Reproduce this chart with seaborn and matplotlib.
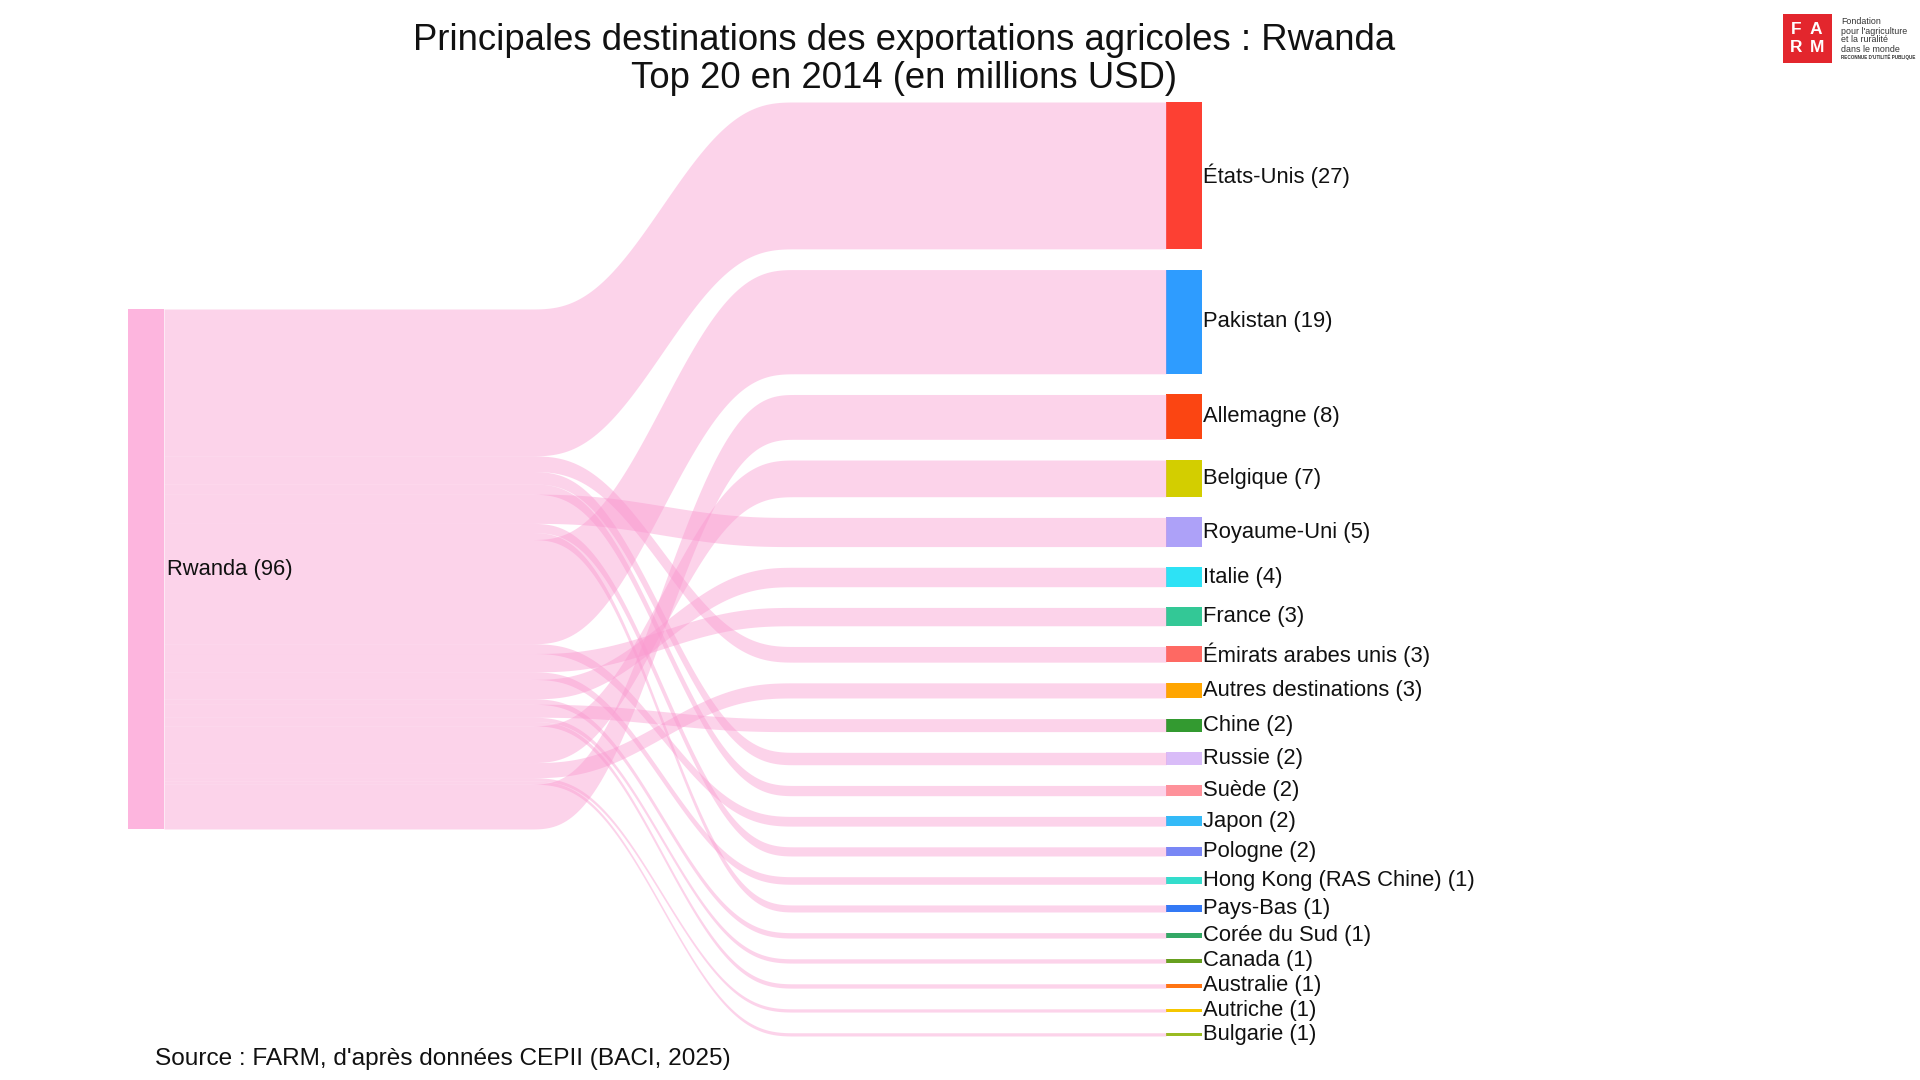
import numpy as np
import matplotlib
matplotlib.use("Agg")
import matplotlib.pyplot as plt
from matplotlib.patches import Rectangle
import seaborn as sns

# Rwanda agricultural exports 2014, million USD
source = "Rwanda"
destinations = ["États-Unis", "Pakistan", "Allemagne", "Belgique", "Royaume-Uni", "Italie",
                "France", "Émirats arabes unis", "Autres destinations", "Chine", "Russie",
                "Suède", "Japon", "Pologne", "Hong Kong (RAS Chine)", "Pays-Bas",
                "Corée du Sud", "Canada", "Australie", "Autriche", "Bulgarie"]
values = [27.2, 19.3, 8.3, 6.8, 5.4, 3.6, 3.4, 2.9, 2.8, 2.4, 2.3, 1.9, 1.8, 1.7, 1.4, 1.3,
          1.0, 0.8, 0.8, 0.6, 0.6]
# order in which the flows leave the Rwanda node, top to bottom
link_order = ["États-Unis", "Émirats arabes unis", "Russie", "Suède", "Royaume-Uni", "Pologne",
              "Pays-Bas", "Pakistan", "Japon", "France", "Hong Kong (RAS Chine)", "Italie",
              "Corée du Sud", "Chine", "Canada", "Australie", "Belgique",
              "Autres destinations", "Autriche", "Bulgarie", "Allemagne"]
node_colors = ["#FD4033", "#2E9CFF", "#FB4512", "#D3CE00", "#ADA1F8", "#2DE2F5", "#33C896",
               "#FE6963", "#FFA500", "#339A30", "#D9BCF8", "#FE919A", "#33BAF8", "#7987F5",
               "#33DDCC", "#3379F5", "#33A865", "#67A01F", "#FF7412", "#F5C700", "#9ABB22"]
source_color = "#FDB5DE"
link_color = "#FA99D0"

sns.set_theme(style="white")
plt.rcParams["font.family"] = ["Liberation Sans", "DejaVu Sans"]

fig = plt.figure(figsize=(19.2, 10.8), dpi=100)
ax = fig.add_axes([0, 0, 1, 1])
ax.set_xlim(0, 1920)
ax.set_ylim(1080, 0)
ax.axis("off")

# layout (pixels)
top, bottom = 102, 1036
x_src, x_tgt, node_w = 128, 1166, 36
pad = 20.7
total = sum(values)
ky = (bottom - top - pad * (len(values) - 1)) / total

tgt_pos = {}
y = top
for name, v, c in zip(destinations, values, node_colors):
    h = v * ky
    tgt_pos[name] = y
    ax.add_patch(Rectangle((x_tgt, y), node_w, h, facecolor=c, edgecolor="none"))
    ax.text(x_tgt + node_w + 1, y + h / 2, f"{name} ({round(v)})", ha="left", va="center",
            fontsize=15.8, color="#111111")
    y += h + pad

src_top = (top + bottom) / 2 - total * ky / 2
ax.add_patch(Rectangle((x_src, src_top), node_w, total * ky, facecolor=source_color,
                       edgecolor="none"))
ax.text(x_src + node_w + 3, src_top + total * ky / 2, f"{source} ({round(total)})",
        ha="left", va="center", fontsize=15.8, color="#111111")

# links: ribbons flat near the nodes, bending in the middle
x0, x1 = x_src + node_w, x_tgt
bx = np.linspace(x0, x1, 400)
u = np.clip(((bx - x0) / (x1 - x0) - 0.364) / 0.267, 0, 1)
blend = u ** 3 * (u * (6 * u - 15) + 10)
vals = dict(zip(destinations, values))
y = src_top
for name in link_order:
    h = vals[name] * ky
    ytop = y + (tgt_pos[name] - y) * blend
    ax.fill_between(bx, ytop, ytop + h, color=link_color, alpha=0.43, lw=0)
    y += h

# titles
ax.text(904, 41, "Principales destinations des exportations agricoles : Rwanda",
        ha="center", va="center", fontsize=26.3, color="#111111")
ax.text(904, 78, "Top 20 en 2014 (en millions USD)", ha="center", va="center",
        fontsize=26.3, color="#111111")
ax.text(155, 1059, "Source : FARM, d'après données CEPII (BACI, 2025)", ha="left",
        va="center", fontsize=17.6, color="#111111")

# FARM logo
ax.add_patch(Rectangle((1783, 14), 49, 49, facecolor="#E3262D", edgecolor="none"))
for letter, lx, ly in [("F", 1796, 29), ("A", 1816, 29), ("R", 1796, 47), ("M", 1817, 47)]:
    ax.text(lx, ly, letter, ha="center", va="center", fontsize=12.5, fontweight="bold",
            color="white")
logo_lines = ["Fondation", "pour l'agriculture", "et la ruralité", "dans le monde"]
for i, line in enumerate(logo_lines):
    ax.text(1841, 22 + i * 9, line, ha="left", va="center", fontsize=6.4, color="#333333")
ax.text(1841, 57, "RECONNUE D'UTILITÉ PUBLIQUE", ha="left", va="center", fontsize=3.3,
        fontweight="bold", color="#333333")

fig.savefig("out.png", dpi=100)
